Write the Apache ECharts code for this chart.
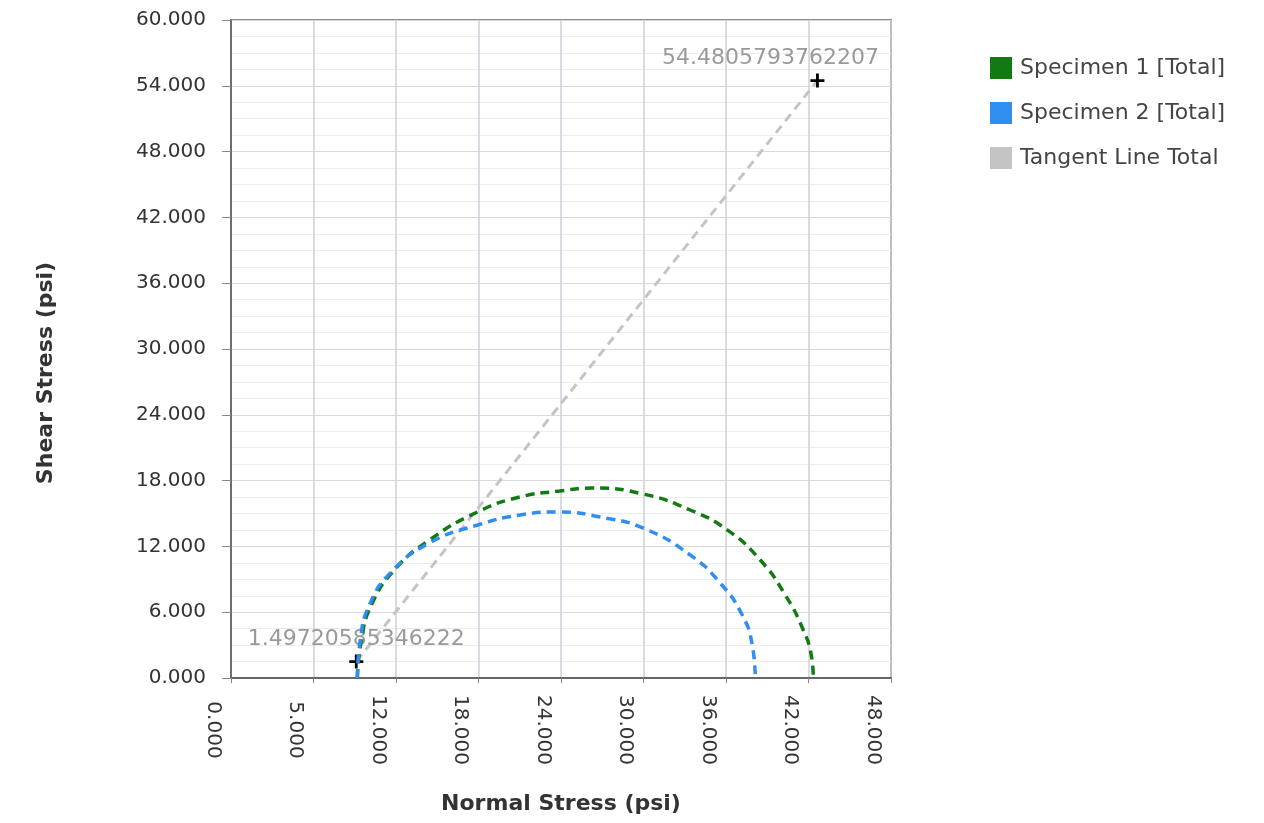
<!DOCTYPE html>
<html>
<head>
<meta charset="utf-8">
<script src="https://cdn.jsdelivr.net/npm/echarts@6/dist/echarts.min.js"></script>
<style>
  html, body { margin: 0; padding: 0; background: #ffffff; }
  #chart { width: 1264px; height: 823px; }
</style>
</head>
<body>
<div id="chart"></div>
<script>
// Mohr circle plot: two specimen circles and the tangent (failure envelope) line

// Tick labels along the normal-stress axis (one per 6 psi step)
const normalTickLabels = ['0.000', '5.000', '12.000', '18.000', '24.000', '30.000', '36.000', '42.000', '48.000'];

// Specimen 1 [Total] circle, sampled points
const spec1Normal = [9.19, 9.48, 10.21, 11.88, 14.43, 17.93, 21.0, 23.92, 26.25, 29.96, 33.39, 36.09, 38.49, 40.31, 41.62, 42.2, 42.35];
const spec1Shear  = [0, 3.46, 6.66, 9.85, 12.58, 15.14, 16.5, 17.05, 17.32, 16.78, 15.32, 13.5, 10.76, 7.57, 4.38, 2.1, 0];

// Specimen 2 [Total] circle, sampled points
const spec2Normal = [9.19, 9.40, 10.06, 11.66, 14.43, 17.93, 21.0, 23.92, 26.83, 29.96, 33.39, 35.58, 37.18, 37.91, 38.13];
const spec2Shear  = [0, 3.46, 6.66, 9.67, 12.31, 13.95, 14.86, 15.14, 14.68, 13.68, 11.22, 8.66, 5.74, 3.01, 0];

// Tangent Line Total end points
const tangentNormal = [9.11, 42.65];
const tangentShear  = [1.49720585346222, 54.4805793762207];

const zip = (xs, ys) => xs.map((x, i) => [x, ys[i]]);

const FONT = 'DejaVu Sans';
const plusPath = 'path://M4,0h2v4h4v2h-4v4h-2v-4h-4v-2h4z';

const chart = echarts.init(document.getElementById('chart'), null, { renderer: 'canvas' });

const dashed = (color) => ({ color: color, width: 3.5, type: [9, 6] });

chart.setOption({
  animation: false,
  backgroundColor: '#ffffff',
  textStyle: { fontFamily: FONT },
  grid: {
    left: 231, right: 373, top: 20, bottom: 145,
    show: true, borderColor: '#8a8a8a', borderWidth: 2, backgroundColor: 'transparent'
  },
  legend: {
    orient: 'vertical',
    left: 985, top: 52,
    itemWidth: 22, itemHeight: 22, itemGap: 23,
    icon: 'rect',
    textStyle: { fontFamily: FONT, fontSize: 22, color: '#444444', padding: [0, 0, 0, 3] },
    data: ['Specimen 1 [Total]', 'Specimen 2 [Total]', 'Tangent Line Total']
  },
  xAxis: {
    type: 'value',
    min: 0, max: 48, interval: 6,
    name: 'Normal Stress (psi)',
    nameLocation: 'middle',
    nameGap: 115,
    nameTextStyle: { fontFamily: FONT, fontSize: 22, fontWeight: 'bold', color: '#333333' },
    axisLine: { show: true, lineStyle: { color: '#666666', width: 2 } },
    axisTick: { show: true, length: 5, lineStyle: { color: '#888888' } },
    axisLabel: {
      rotate: -90,
      margin: 52,
      align: 'center',
      verticalAlign: 'top',
      padding: [8, 0, 0, 0],
      fontFamily: FONT, fontSize: 20, color: '#333333',
      formatter: (v) => normalTickLabels[Math.round(v / 6)]
    },
    splitLine: { show: true, lineStyle: { color: '#cbd2da', width: 1.5 } }
  },
  yAxis: {
    type: 'value',
    min: 0, max: 60, interval: 6,
    name: 'Shear Stress (psi)',
    nameLocation: 'middle',
    nameGap: 174,
    nameTextStyle: { fontFamily: FONT, fontSize: 22, fontWeight: 'bold', color: '#333333', padding: [0, 48, 0, 0] },
    axisLine: { show: true, lineStyle: { color: '#6e6e6e', width: 2 } },
    axisTick: { show: true, length: 9, lineStyle: { color: '#888888' } },
    axisLabel: {
      margin: 25,
      fontFamily: FONT, fontSize: 20, color: '#333333',
      formatter: (v) => v.toFixed(3)
    },
    splitLine: { show: true, lineStyle: { color: '#d9d9d9', width: 1.2 } },
    minorTick: { show: false, splitNumber: 4 },
    minorSplitLine: { show: true, lineStyle: { color: '#ededed', width: 1 } }
  },
  series: [
    {
      name: 'Specimen 1 [Total]',
      type: 'line',
      data: zip(spec1Normal, spec1Shear),
      smooth: true,
      showSymbol: false,
      color: '#127a12',
      lineStyle: dashed('#127a12'),
      z: 3
    },
    {
      name: 'Specimen 2 [Total]',
      type: 'line',
      data: zip(spec2Normal, spec2Shear),
      smooth: true,
      showSymbol: false,
      color: '#2f8ef0',
      lineStyle: dashed('#2f8ef0'),
      z: 4
    },
    {
      name: 'Tangent Line Total',
      type: 'line',
      data: zip(tangentNormal, tangentShear).map((p, i) => ({
        value: p,
        itemStyle: { color: '#000000' },
        label: i === 1 ? { offset: [-47, 0] } : {}
      })),
      showSymbol: true,
      symbol: plusPath,
      symbolSize: 14,
      itemStyle: { color: '#c4c4c4' },
      color: '#c4c4c4',
      lineStyle: { color: '#c4c4c4', width: 3, type: [9, 6] },
      label: {
        show: true,
        position: 'top',
        distance: 4,
        fontFamily: FONT, fontSize: 22, color: '#9a9a9a',
        formatter: (p) => String(p.value[1])
      },
      z: 2
    }
  ]
});
</script>
</body>
</html>
